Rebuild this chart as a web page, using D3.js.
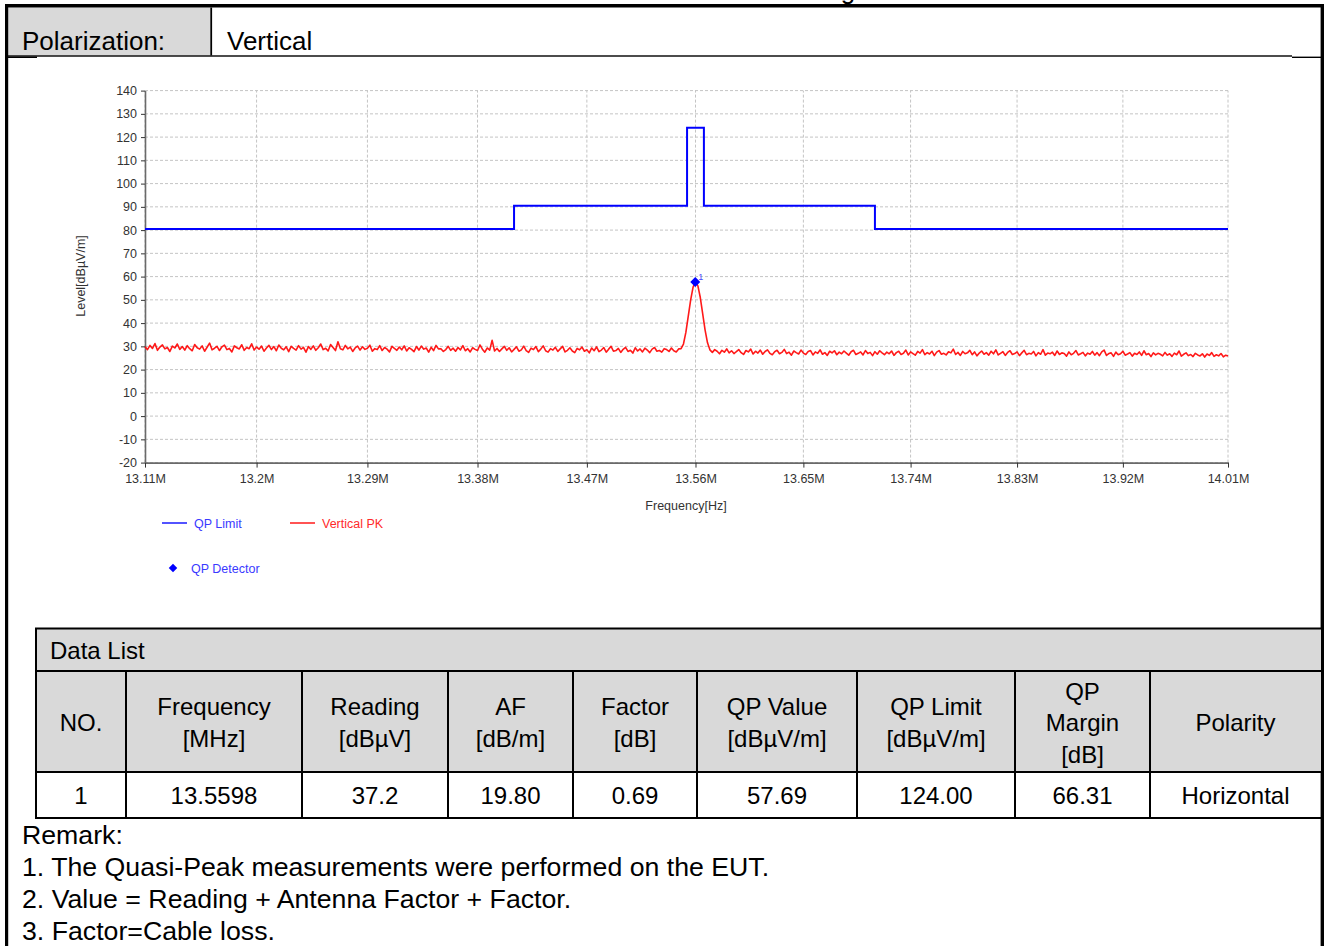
<!DOCTYPE html>
<html>
<head>
<meta charset="utf-8">
<script src="https://cdn.jsdelivr.net/npm/d3@7"></script>
<style>
  body { margin: 0; background: #fff; }
  svg { display: block; font-family: "Liberation Sans", Arial, sans-serif; }
</style>
</head>
<body>
<script>
// sweep grid of the PK trace (MHz)
const sweepStart = 13.11;
const sweepStep = 0.002;

// Vertical PK trace, dBuV/m, one value per sweep point (451 points)
const pkLevels = [
  29.8,28.6,30.4,29.1,31.2,28.3,29.7,30.6,28.9,29.5,27.8,30.1,29.3,31.0,28.7,
  29.9,28.4,30.3,29.0,28.1,30.8,29.4,28.8,30.2,27.9,29.6,31.4,28.5,29.2,30.0,
  28.2,29.8,30.5,28.6,29.1,27.6,30.2,29.4,28.9,30.7,28.3,29.5,29.0,31.1,28.4,
  29.7,28.8,30.1,27.9,29.3,30.4,28.6,29.9,28.1,30.6,29.2,28.5,29.8,27.7,30.0,
  29.1,28.4,30.3,28.8,29.6,27.5,29.9,28.7,30.2,28.3,29.4,31.0,28.6,29.2,28.0,
  30.8,29.5,28.2,32.0,29.0,28.5,30.4,28.9,29.7,27.8,29.3,30.1,28.4,29.8,28.7,
  29.2,30.5,27.9,29.0,28.6,30.3,28.2,29.5,28.8,27.6,30.0,29.1,28.3,29.7,28.5,
  30.2,28.0,29.4,28.7,27.7,29.9,28.4,30.1,28.8,29.3,27.5,29.6,28.2,30.4,28.9,
  29.0,27.8,28.6,30.0,28.3,29.2,27.9,29.5,28.5,30.3,28.1,29.0,27.6,29.4,28.7,
  28.2,30.6,28.8,27.5,29.3,28.4,32.6,28.0,29.1,27.8,28.9,30.0,28.3,29.4,27.6,
  28.7,29.8,27.9,28.5,30.1,28.2,27.4,29.2,28.6,29.9,27.7,28.8,30.2,28.1,27.5,
  29.0,28.4,29.6,27.8,28.9,30.0,27.6,28.3,29.4,28.0,27.3,29.1,28.5,29.7,27.9,
  28.6,27.2,29.3,28.1,29.8,27.7,28.4,29.5,27.5,28.8,30.0,27.9,28.2,29.1,27.4,
  28.7,29.6,27.8,28.3,27.1,29.4,28.0,28.9,27.6,29.2,28.4,27.3,28.8,29.5,27.9,
  28.2,27.5,29.0,28.6,27.8,29.3,28.1,27.6,28.9,29.0,31.0,36.0,43.0,50.0,55.5,
  57.7,56.0,51.0,44.0,37.0,31.5,28.5,27.4,28.6,27.9,26.8,28.3,27.5,28.9,27.2,
  28.1,26.9,27.7,28.6,27.3,26.5,28.2,27.6,28.8,26.7,27.9,27.1,28.4,26.6,27.8,
  28.5,27.0,26.4,27.7,28.3,26.8,27.4,28.7,26.9,27.5,26.2,28.0,27.3,26.7,28.4,
  27.1,26.5,27.8,28.2,26.3,27.6,27.0,28.5,26.6,27.3,26.1,27.9,27.2,28.1,26.4,
  27.5,26.8,28.0,27.1,26.2,27.7,28.3,26.5,27.0,27.6,26.3,28.2,26.9,27.4,26.0,
  27.7,26.6,28.1,27.2,26.4,27.5,26.8,28.0,26.1,27.3,27.9,26.5,27.0,28.4,26.3,
  27.6,26.9,26.2,27.8,27.1,28.6,26.4,27.3,26.7,27.9,26.0,27.5,28.2,26.6,27.0,
  26.3,27.7,27.2,28.8,26.5,27.4,26.1,27.8,26.8,27.2,28.3,26.4,27.6,25.9,27.1,
  28.0,26.6,27.3,26.2,27.9,26.8,28.5,26.3,27.0,27.7,26.1,27.4,28.1,26.5,26.9,
  27.6,26.0,27.2,28.3,26.4,27.0,26.7,27.8,25.9,27.3,26.6,28.6,26.2,27.1,26.8,
  27.5,26.1,28.0,26.5,27.2,26.9,25.8,27.6,26.4,27.0,28.2,26.3,26.8,27.4,25.9,
  27.1,26.6,27.8,26.2,27.3,26.0,27.6,28.4,26.1,26.9,27.2,25.7,27.5,26.4,26.8,
  27.9,26.2,26.7,27.3,25.8,27.0,26.5,27.6,26.1,28.1,26.4,26.9,25.6,27.2,26.3,
  27.0,26.6,25.9,27.4,26.2,26.8,25.7,27.1,26.4,28.0,25.8,26.6,27.2,26.0,26.5,
  25.6,27.0,26.3,25.9,26.8,25.4,26.7,26.1,27.3,25.7,26.4,25.9,26.9,25.5,26.2,
  25.8
];

// QP limit: band edges (MHz) and level per band (dBuV/m)
const limitEdges = [13.11, 13.41, 13.553, 13.567, 13.71, 14.01];
const limitLevels = [80.5, 90.5, 124.0, 90.5, 80.5];

// QP detector result
const qpFreqs = [13.5598];
const qpLevels = [57.69];

// axis ticks
const xTicks = [13.11, 13.2, 13.29, 13.38, 13.47, 13.56, 13.65, 13.74, 13.83, 13.92, 14.01];
const yTicks = [-20, -10, 0, 10, 20, 30, 40, 50, 60, 70, 80, 90, 100, 110, 120, 130, 140];

// data list
const tableHeaders = [
  ["NO."], ["Frequency", "[MHz]"], ["Reading", "[dBµV]"], ["AF", "[dB/m]"], ["Factor", "[dB]"],
  ["QP Value", "[dBµV/m]"], ["QP Limit", "[dBµV/m]"], ["QP", "Margin", "[dB]"], ["Polarity"]
];
const tableRow = ["1", "13.5598", "37.2", "19.80", "0.69", "57.69", "124.00", "66.31", "Horizontal"];
const remarks = [
  "Remark:",
  "1. The Quasi-Peak measurements were performed on the EUT.",
  "2. Value = Reading + Antenna Factor + Factor.",
  "3. Factor=Cable loss."
];

const W = 1324, H = 946;
const svg = d3.select("body").append("svg").attr("width", W).attr("height", H);

// ---- page frame ----
svg.append("text").attr("x", 848).attr("y", -1.5).attr("font-size", 26).attr("text-anchor", "middle").text("g");
svg.append("rect").attr("x", 8).attr("y", 7.5).attr("width", 202).attr("height", 48).attr("fill", "#d9d9d9");
svg.append("rect").attr("x", 5).attr("y", 4).attr("width", 1319).attr("height", 3.5).attr("fill", "#000");
svg.append("rect").attr("x", 5).attr("y", 4).attr("width", 3.2).attr("height", H).attr("fill", "#000");
svg.append("rect").attr("x", 1320.6).attr("y", 4).attr("width", 3.4).attr("height", H).attr("fill", "#000");
svg.append("rect").attr("x", 210.3).attr("y", 7.5).attr("width", 1.8).attr("height", 48).attr("fill", "#000");
svg.append("rect").attr("x", 8).attr("y", 55.3).attr("width", 1284).attr("height", 1.4).attr("fill", "#000");
svg.append("rect").attr("x", 8).attr("y", 56.5).attr("width", 29).attr("height", 1.5).attr("fill", "#000");
svg.append("rect").attr("x", 1292).attr("y", 56.6).attr("width", 29).attr("height", 1.4).attr("fill", "#000");
svg.append("text").attr("x", 22).attr("y", 50).attr("font-size", 26).text("Polarization:");
svg.append("text").attr("x", 227).attr("y", 50).attr("font-size", 26).text("Vertical");

// ---- chart ----
const x = d3.scaleLog().domain([13.11, 14.01]).range([145, 1228]);
const y = d3.scaleLinear().domain([-20, 140]).range([462.6, 90.6]);
const plot = svg.append("g");

plot.append("g").selectAll("line").data(yTicks).join("line")
  .attr("x1", x.range()[0]).attr("x2", x.range()[1])
  .attr("y1", d => y(d)).attr("y2", d => y(d))
  .attr("stroke", "#c4c4c4").attr("stroke-dasharray", "3,2");
plot.append("g").selectAll("line").data(xTicks).join("line")
  .attr("x1", d => x(d)).attr("x2", d => x(d))
  .attr("y1", y.range()[0]).attr("y2", y.range()[1])
  .attr("stroke", "#c4c4c4").attr("stroke-dasharray", "3,2");

const styleAxis = g => {
  g.select(".domain").attr("stroke", "#6a6a6a").attr("stroke-width", 1.6);
  g.selectAll(".tick line").attr("stroke", "#333").attr("stroke-width", 1);
  g.selectAll(".tick text").attr("fill", "#333").attr("font-size", 12.5)
    .attr("font-family", "'Liberation Sans', Arial, sans-serif");
};
plot.append("g").attr("transform", `translate(0,${y.range()[0]})`)
  .call(d3.axisBottom(x).tickValues(xTicks).tickFormat(d => d + "M").tickSize(5).tickSizeOuter(0).tickPadding(7))
  .call(styleAxis);
plot.append("g").attr("transform", `translate(${x.range()[0]},0)`)
  .call(d3.axisLeft(y).tickValues(yTicks).tickFormat(d => String(d)).tickSize(4).tickSizeOuter(0).tickPadding(4))
  .call(styleAxis);

svg.append("text").attr("x", 686).attr("y", 510).attr("text-anchor", "middle")
  .attr("font-size", 12.5).attr("fill", "#333").text("Frequency[Hz]");
svg.append("text").attr("transform", "translate(85,276) rotate(-90)").attr("text-anchor", "middle")
  .attr("font-size", 12.5).attr("fill", "#333").text("Level[dBµV/m]");

// limit line (step)
const limitPts = limitLevels.map((v, i) => [limitEdges[i], v]);
limitPts.push([limitEdges[limitEdges.length - 1], limitLevels[limitLevels.length - 1]]);
plot.append("path").datum(limitPts)
  .attr("d", d3.line().x(d => x(d[0])).y(d => y(d[1])).curve(d3.curveStepAfter))
  .attr("fill", "none").attr("stroke", "#0000ff").attr("stroke-width", 2);

// PK trace
plot.append("path").datum(pkLevels)
  .attr("d", d3.line().x((d, i) => x(sweepStart + i * sweepStep)).y(d => y(d)))
  .attr("fill", "none").attr("stroke", "#ff0000").attr("stroke-width", 1.6).attr("stroke-opacity", 0.9)
  .attr("stroke-linejoin", "round");

// QP detector markers (diamond = square turned 45deg)
const diamond = d3.symbol().type(d3.symbolSquare).size(50);
plot.append("g").selectAll("path").data(qpFreqs).join("path")
  .attr("transform", (d, i) => `translate(${x(d)},${y(qpLevels[i])}) rotate(45)`)
  .attr("d", diamond).attr("fill", "#0000ff");
plot.append("g").selectAll("text").data(qpFreqs).join("text")
  .attr("x", d => x(d) + 3).attr("y", (d, i) => y(qpLevels[i]) - 2)
  .attr("font-size", 9).attr("fill", "#4a4aff").text((d, i) => i + 1);

// legend
const legend = svg.append("g").attr("font-size", 12.5);
legend.append("line").attr("x1", 162).attr("x2", 187).attr("y1", 523).attr("y2", 523).attr("stroke", "#1a1aff").attr("stroke-width", 1.5);
legend.append("text").attr("x", 194).attr("y", 527.5).attr("fill", "#3a3aff").text("QP Limit");
legend.append("line").attr("x1", 290).attr("x2", 315).attr("y1", 523).attr("y2", 523).attr("stroke", "#ff1a1a").attr("stroke-width", 1.5);
legend.append("text").attr("x", 322).attr("y", 527.5).attr("fill", "#ff2a2a").text("Vertical PK");
legend.append("path").attr("transform", "translate(173,568) rotate(45)").attr("d", d3.symbol().type(d3.symbolSquare).size(36)).attr("fill", "#0000ff");
legend.append("text").attr("x", 191).attr("y", 572.5).attr("fill", "#3a3aff").text("QP Detector");

// ---- data list table ----
const colEdges = [36, 126, 302, 448, 573, 697, 857, 1015, 1150, 1321];
const rowEdges = [628.5, 671, 772, 818];
const tbl = svg.append("g").attr("font-size", 24);
tbl.append("rect").attr("x", colEdges[0]).attr("y", rowEdges[0])
  .attr("width", colEdges[colEdges.length - 1] - colEdges[0]).attr("height", rowEdges[2] - rowEdges[0]).attr("fill", "#d9d9d9");
tbl.append("text").attr("x", 50).attr("y", 659).text("Data List");

tableHeaders.forEach((lines, c) => {
  const cx = (colEdges[c] + colEdges[c + 1]) / 2;
  const cy = (rowEdges[1] + rowEdges[2]) / 2;
  lines.forEach((t, k) => {
    tbl.append("text").attr("x", cx).attr("y", cy + (k - (lines.length - 1) / 2) * 31.5 + 9.5)
      .attr("text-anchor", "middle").text(t);
  });
});
tableRow.forEach((t, c) => {
  tbl.append("text").attr("x", (colEdges[c] + colEdges[c + 1]) / 2).attr("y", (rowEdges[2] + rowEdges[3]) / 2 + 9)
    .attr("text-anchor", "middle").text(t);
});

// grid lines of the table
rowEdges.forEach(r => {
  tbl.append("line").attr("x1", colEdges[0] - 1).attr("x2", colEdges[colEdges.length - 1]).attr("y1", r).attr("y2", r)
    .attr("stroke", "#000").attr("stroke-width", 2);
});
colEdges.slice(0, -1).forEach((c, i) => {
  tbl.append("line").attr("x1", c).attr("x2", c)
    .attr("y1", i === 0 ? rowEdges[0] : rowEdges[1]).attr("y2", rowEdges[3])
    .attr("stroke", "#000").attr("stroke-width", 2);
});

// remarks
svg.append("g").attr("font-size", 26.7).selectAll("text").data(remarks).join("text")
  .attr("x", 22).attr("y", (d, i) => 843.5 + i * 32).text(d => d);
</script>
</body>
</html>
